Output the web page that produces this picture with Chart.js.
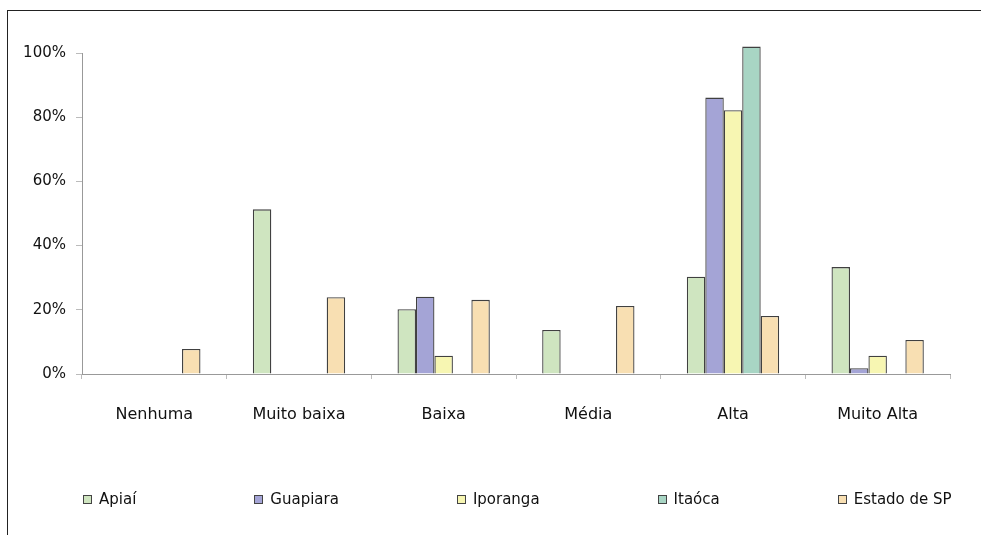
<!DOCTYPE html>
<html>
<head>
<meta charset="utf-8">
<script src="https://cdn.jsdelivr.net/npm/chart.js@4/dist/chart.umd.min.js"></script>
<style>
    html, body { margin: 0; padding: 0; background: #fff; overflow: hidden; }
    body { width: 981px; height: 535px; position: relative; }
    .frame { position: absolute; left: 7px; top: 10px; width: 1100px; height: 700px; border: 1px solid #222; }
    #chart { position: absolute; left: 0; top: 0; }
    .legend { position: absolute; left: 83px; top: 490px; display: flex; align-items: center; gap: 118px;
              font-family: 'DejaVu Sans', Verdana, sans-serif; font-size: 15px; color: #111; }
    .legend .item { display: flex; align-items: center; white-space: nowrap; }
    .legend .box { width: 7px; height: 7px; border: 1px solid #444; margin-right: 7px; }
</style>
</head>
<body>
<div class="frame"></div>
<canvas id="chart" width="981" height="535"></canvas>
<div class="legend" id="legend"></div>
<script>
// categories and values (%)
const categories = ['Nenhuma', 'Muito baixa', 'Baixa', 'Média', 'Alta', 'Muito Alta'];
const seriesNames = ['Apiaí', 'Guapiara', 'Iporanga', 'Itaóca', 'Estado de SP'];
const apiai = [null, 51.3, 20.2, 13.7, 30.3, 33.3];
const guapiara = [null, null, 24.1, null, 86.1, 1.8];
const iporanga = [null, null, 5.7, null, 82.2, 5.7];
const itaoca = [null, null, null, null, 102, null];
const estadoSP = [7.8, 23.9, 23.1, 21.2, 18.1, 10.6];
const yTicks = [0, 20, 40, 60, 80, 100];

const colors = ['#cfe5c0', '#a4a4d6', '#f7f6b2', '#a8d5c4', '#f8dfb2'];
const values = [apiai, guapiara, iporanga, itaoca, estadoSP];

Chart.defaults.font.family = "'DejaVu Sans', Verdana, sans-serif";
Chart.defaults.color = '#111';

const chart = new Chart(document.getElementById('chart'), {
    type: 'bar',
    data: {
        labels: categories,
        datasets: seriesNames.map((name, i) => ({
            label: name,
            data: values[i],
            backgroundColor: colors[i],
            borderColor: '#404040',
            borderWidth: 1.3,
            categoryPercentage: 0.638,
            barPercentage: 1.0,
            clip: false   // Itaóca goes a bit past 100%
        }))
    },
    options: {
        responsive: false,
        devicePixelRatio: 1,
        animation: false,
        layout: { padding: { left: 0, top: 53, right: 31, bottom: 101 } },
        plugins: {
            legend: { display: false },
            tooltip: { enabled: false }
        },
        scales: {
            x: {
                grid: { drawOnChartArea: false, tickLength: 5, color: '#bbb' },
                border: { color: '#999' },
                ticks: { font: { size: 16 }, padding: 26, maxRotation: 0 },
                afterFit: scale => { scale.height = 60; }
            },
            y: {
                min: 0,
                max: 100,
                grid: { drawOnChartArea: false, tickLength: 6, color: '#bbb' },
                border: { color: '#999' },
                ticks: { font: { size: 15 }, padding: 10, stepSize: 20, callback: v => v + '%' },
                afterBuildTicks: scale => {
                    scale.ticks = yTicks.map(v => ({ value: v }));
                },
                afterFit: scale => { scale.width = 82; }
            }
        }
    }
});

// legend built from the chart's datasets
document.getElementById('legend').innerHTML = chart.data.datasets.map(ds => `
    <div class="item"><span class="box" style="background:${ds.backgroundColor}"></span>${ds.label}</div>
`).join('');
</script>
</body>
</html>
